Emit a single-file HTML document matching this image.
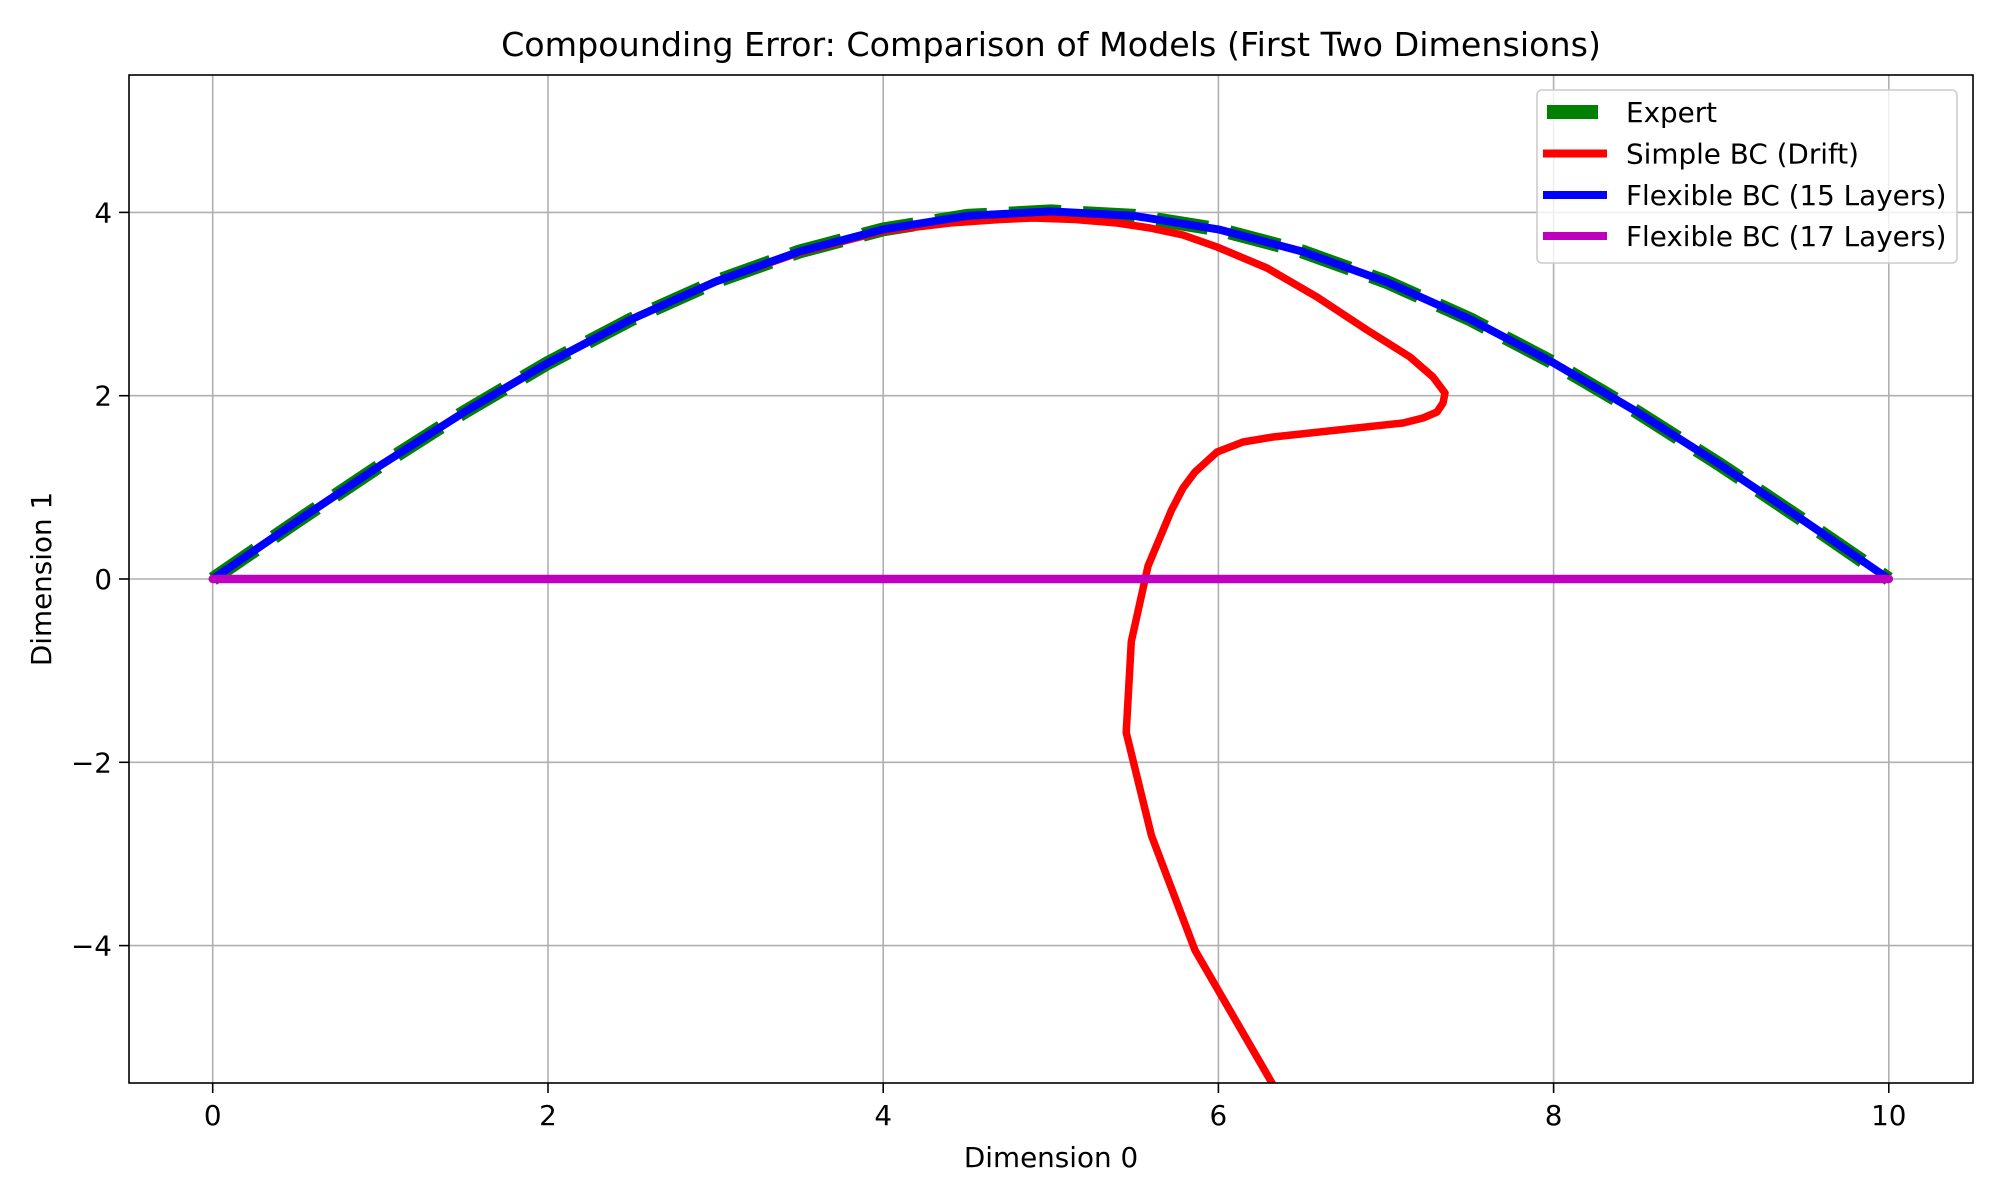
<!DOCTYPE html>
<html><head><meta charset="utf-8"><style>
html,body{margin:0;padding:0;background:#fff;}
svg{display:block;font-family:"DejaVu Sans","Liberation Sans",sans-serif;}
</style></head><body>
<svg width="2000" height="1200" viewBox="0 0 2000 1200" xmlns="http://www.w3.org/2000/svg">
<rect width="2000" height="1200" fill="#fff"/>
<defs><clipPath id="c"><rect x="129" y="75" width="1844" height="1008"/></clipPath></defs>
<g stroke="#b0b0b0" stroke-width="1.6">
<line x1="212.7" y1="75" x2="212.7" y2="1083"/>
<line x1="548" y1="75" x2="548" y2="1083"/>
<line x1="883.2" y1="75" x2="883.2" y2="1083"/>
<line x1="1218.4" y1="75" x2="1218.4" y2="1083"/>
<line x1="1553.6" y1="75" x2="1553.6" y2="1083"/>
<line x1="1888.8" y1="75" x2="1888.8" y2="1083"/>
<line x1="129" y1="212.4" x2="1973" y2="212.4"/>
<line x1="129" y1="395.7" x2="1973" y2="395.7"/>
<line x1="129" y1="579" x2="1973" y2="579"/>
<line x1="129" y1="762.3" x2="1973" y2="762.3"/>
<line x1="129" y1="945.6" x2="1973" y2="945.6"/>
</g>
<g clip-path="url(#c)" fill="none" stroke-linejoin="round">
<polyline stroke="#008000" stroke-width="14" stroke-dasharray="52,22" points="212.8,579 296.6,521.5 380.4,465.4 464.2,412.1 548,362.9 631.8,319.1 715.6,281.6 799.4,251.5 883.2,229.4 967,215.9 1050.8,211.4 1134.6,215.9 1218.4,229.4 1302.2,251.5 1386,281.6 1469.8,319.1 1553.6,362.9 1637.4,412.1 1721.2,465.4 1805,521.5 1888.8,579"/>
<polyline stroke="#ff0000" stroke-width="7.5" stroke-linecap="round" points="212.8,579 296.6,521.5 380.4,465.4 464.2,412.1 548,362.9 631.8,319.1 715.6,281.6 799.4,252.5 883.2,231 950,223 1000,219.5 1033,218 1075,219.5 1117,223 1150,228 1183,235 1217,247 1267,268 1317,297 1367,330 1410,357 1433,377 1445,393 1443,403 1437,412 1423,418 1403,423 1273,437 1243,442 1217,452 1195,472 1183,488 1171.5,510.1 1148,566.1 1131.3,641.5 1126.2,732.5 1151.4,835.4 1195,950.3 1272,1083 1319,1168"/>
<polyline stroke="#0000ff" stroke-width="8" stroke-linecap="round" points="212.8,579 296.6,521.5 380.4,465.4 464.2,412.1 548,362.9 631.8,319.1 715.6,281.6 799.4,251.5 883.2,229.4 967,215.9 1050.8,211.4 1134.6,215.9 1218.4,229.4 1302.2,251.5 1386,281.6 1469.8,319.1 1553.6,362.9 1637.4,412.1 1721.2,465.4 1805,521.5 1888.8,579"/>
<line stroke="#bf00bf" stroke-width="8.5" stroke-linecap="round" x1="212.8" y1="579" x2="1888.8" y2="579"/>
</g>
<rect x="129" y="75" width="1844" height="1008" fill="none" stroke="#000" stroke-width="1.6"/>
<g stroke="#000" stroke-width="1.6">
<line x1="212.7" y1="1083" x2="212.7" y2="1093"/>
<line x1="548" y1="1083" x2="548" y2="1093"/>
<line x1="883.2" y1="1083" x2="883.2" y2="1093"/>
<line x1="1218.4" y1="1083" x2="1218.4" y2="1093"/>
<line x1="1553.6" y1="1083" x2="1553.6" y2="1093"/>
<line x1="1888.8" y1="1083" x2="1888.8" y2="1093"/>
<line x1="119" y1="212.4" x2="129" y2="212.4"/>
<line x1="119" y1="395.7" x2="129" y2="395.7"/>
<line x1="119" y1="579" x2="129" y2="579"/>
<line x1="119" y1="762.3" x2="129" y2="762.3"/>
<line x1="119" y1="945.6" x2="129" y2="945.6"/>
</g>
<g font-size="27.8" fill="#000">
<g text-anchor="middle">
<text x="212.7" y="1125">0</text>
<text x="548" y="1125">2</text>
<text x="883.2" y="1125">4</text>
<text x="1218.4" y="1125">6</text>
<text x="1553.6" y="1125">8</text>
<text x="1888.8" y="1125">10</text>
</g>
<g text-anchor="end">
<text x="112" y="222.4">4</text>
<text x="112" y="405.7">2</text>
<text x="112" y="589">0</text>
<text x="112" y="772.3">−2</text>
<text x="112" y="955.6">−4</text>
</g>
<text x="1051" y="1167" text-anchor="middle">Dimension 0</text>
<text transform="translate(51,579) rotate(-90)" text-anchor="middle">Dimension 1</text>
<text x="1051" y="56" text-anchor="middle" font-size="33.3">Compounding Error: Comparison of Models (First Two Dimensions)</text>
</g>
<rect x="1537" y="90" width="420" height="173" rx="5" fill="#fff" fill-opacity="0.8" stroke="#cccccc" stroke-width="1.6"/>
<line x1="1547" y1="112" x2="1598" y2="112" stroke="#008000" stroke-width="14"/>
<line x1="1543" y1="153.5" x2="1607" y2="153.5" stroke="#ff0000" stroke-width="8"/>
<line x1="1543" y1="195" x2="1607" y2="195" stroke="#0000ff" stroke-width="8"/>
<line x1="1543" y1="236" x2="1607" y2="236" stroke="#bf00bf" stroke-width="8"/>
<g font-size="27.8" fill="#000">
<text x="1626" y="122">Expert</text>
<text x="1626" y="163.5">Simple BC (Drift)</text>
<text x="1626" y="205">Flexible BC (15 Layers)</text>
<text x="1626" y="246">Flexible BC (17 Layers)</text>
</g>
</svg>
</body></html>
